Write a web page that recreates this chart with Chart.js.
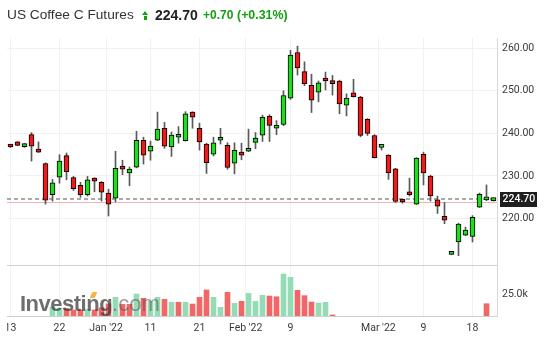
<!DOCTYPE html>
<html><head><meta charset="utf-8">
<script src="https://cdn.jsdelivr.net/npm/chart.js@4.4.1/dist/chart.umd.min.js"></script>
<style>
html,body{margin:0;padding:0;background:#fff;width:554px;height:359px;overflow:hidden;font-family:"Liberation Sans",Arial,sans-serif;}
#wrap{position:relative;width:554px;height:359px;}
#cv{position:absolute;left:7px;top:0;}
.t{position:absolute;top:4px;height:22px;line-height:22px;white-space:nowrap;}
#name{left:7px;font-size:13.7px;color:#333;}
#arrow{position:absolute;left:142px;top:11px;width:7px;height:9px;}
#arrow .tri{position:absolute;left:0;top:0;width:0;height:0;border-left:3.5px solid transparent;border-right:3.5px solid transparent;border-bottom:4.5px solid #13a013;}
#arrow .stem{position:absolute;left:2px;top:4.5px;width:3px;height:4px;background:#13a013;}
#price{left:155px;font-size:14px;font-weight:bold;color:#222;}
#chg{left:203px;font-size:12px;font-weight:bold;color:#13a013;}
#pct{left:237px;font-size:12.4px;font-weight:bold;color:#13a013;}
#logo{position:absolute;left:20px;top:293px;height:22px;line-height:22px;white-space:nowrap;font-family:"Liberation Sans",Arial,sans-serif;}
#logo .a{font-size:22px;font-weight:bold;color:rgba(60,60,60,0.74);letter-spacing:-0.5px;}
#logo .b{font-size:22px;color:rgba(95,95,95,0.62);}
#swoosh{position:absolute;left:91px;top:292px;width:5px;height:6px;background:rgba(245,166,35,0.85);transform:skewX(-25deg);border-radius:1px;}
</style>
</head><body>
<div id="wrap">
<canvas id="cv" width="547" height="359"></canvas>
<div class="t" id="name">US Coffee C Futures</div>
<div id="arrow"><div class="tri"></div><div class="stem"></div></div>
<div class="t" id="price">224.70</div>
<div class="t" id="chg">+0.70</div>
<div class="t" id="pct">(+0.31%)</div>
<div id="logo"><span class="a">Investing</span><span class="b">.com</span></div>
<div id="swoosh"></div>
</div>
<script>
// ---- data ----
const openP  = [237.3,238.0,236.9,239.7,236.0,232.9,225.6,229.7,234.8,229.6,227.8,225.6,229.3,228.5,226.0,224.8,232.1,230.7,232.1,238.4,235.8,238.4,241.2,236.8,239.1,238.3,245.0,241.2,237.5,235.1,238.4,237.2,233.0,235.4,235.8,237.9,239.6,244.0,241.2,242.1,248.3,259.0,254.5,251.3,249.7,253.0,252.3,252.3,246.6,249.5,248.5,243.3,239.5,236.7,234.9,231.7,224.2,226.3,223.4,235.1,230.0,224.4,220.5,211.6,214.5,216.1,215.8,222.7,224.4,224.2];
const highP  = [237.4,238.1,237.6,240.2,238.0,233.1,229.2,235.0,235.4,229.9,228.5,229.9,229.6,228.7,226.9,235.8,233.7,232.1,240.5,239.1,238.2,245.0,242.6,240.3,241.6,245.1,245.1,242.4,237.7,239.1,241.2,237.8,237.8,237.7,241.0,240.2,244.3,244.4,243.0,250.0,259.5,260.5,256.8,253.9,252.3,254.4,253.6,252.5,249.3,252.7,248.7,243.5,239.7,237.4,235.0,231.8,224.5,229.5,234.3,235.6,230.2,225.3,223.8,212.3,218.9,218.0,220.7,226.0,227.9,224.8];
const lowP   = [236.7,237.1,236.7,233.5,235.5,223.4,224.1,228.3,229.1,226.6,225.0,225.3,226.3,224.1,220.6,223.9,230.3,227.7,231.9,232.8,233.7,238.3,236.5,234.6,237.7,238.2,241.2,236.1,230.6,234.7,237.5,231.6,230.5,233.8,235.7,236.4,238.1,238.1,239.7,241.8,248.0,253.7,251.2,244.9,247.4,250.2,249.0,244.6,244.1,248.5,239.2,239.5,234.2,236.1,229.2,223.8,223.6,225.3,223.3,227.9,224.1,221.2,218.8,211.5,211.3,216.0,214.5,222.6,224.2,224.1];
const closeP = [236.8,237.2,237.5,237.0,235.6,224.3,228.4,233.5,231.0,227.0,225.6,229.1,228.8,226.2,223.4,231.8,231.6,231.6,238.4,234.9,237.0,241.0,237.0,239.6,239.6,244.6,243.8,238.0,233.1,237.8,238.9,232.0,236.0,234.9,236.5,238.9,243.8,241.9,241.5,248.9,258.4,255.4,251.7,247.8,251.9,252.3,251.7,246.9,248.3,248.6,239.5,240.0,234.3,237.2,230.7,224.0,223.9,225.6,234.2,230.7,225.3,222.9,219.6,212.2,218.7,217.3,220.3,225.7,224.9,224.7];
// volume in thousands (null = no bar)
const volume = [null,null,null,null,null,null,10.5,9.0,8.8,7.0,7.0,8.0,7.0,9.4,14.0,21.5,13.4,13.4,25.3,20.4,16.9,21.5,19.2,15.8,15.8,15.8,13.8,21.5,30.0,21.5,10.0,27.3,14.6,16.9,26.1,16.9,23.8,23.0,22.2,48.4,44.6,29.6,23.4,16.1,15.0,15.8,1.2,null,null,null,null,null,null,null,null,null,null,null,null,null,null,null,null,null,null,null,null,null,14.2,null];
// volume bar direction per day: u = up, d = down, - = none
const volDir = ["------uudd","duddduddud","uudududddu","ududuuuddu","uddduud---","----------","--------d-"].join('');
const tickPos = [0,7,13.65,20,27,33.6,40,52.55,59,66];
const tickLabels = ["13","22","Jan '22","11","21","Feb '22","9","Mar '22","9","18"];
const priceTicks = [220,230,240,250,260];
const volTicks = [25];
const lastPrice = 224.70;
const prevClose = 224.00;

const GREEN = '#1fdc1f', RED = '#ee1b1b';
const VGREEN = '#95dbb6', VRED = '#f06767';
const FONT = {family:'Roboto', size:10.5};
const TXT = '#3a3a3a';

const idx = openP.map((_, i) => i);
const wickData = idx.map(i => ({x:i, y:[lowP[i], highP[i]]}));
const bodyData = idx.map(i => ({x:i, y:[openP[i], closeP[i]]}));
const bodyColors = idx.map(i => closeP[i] >= openP[i] ? GREEN : RED);
const volIdx = idx.filter(i => volume[i] !== null);
const volData = volIdx.map(i => ({x:i, y:volume[i]}));
const volColors = volIdx.map(i => volDir[i] === 'u' ? VGREEN : VRED);

const overlay = {
  id: 'overlay',
  beforeDatasetsDraw(chart) {
    const {ctx, chartArea: a, scales: {y, yv}} = chart;
    ctx.save();
    ctx.lineWidth = 1;
    ctx.strokeStyle = '#d0d0d0';
    const ys = Math.round(yv.top) + 0.5;
    ctx.beginPath(); ctx.moveTo(a.left, ys); ctx.lineTo(a.right, ys); ctx.stroke();
    const yp = Math.round(y.getPixelForValue(prevClose)) + 0.5;
    ctx.strokeStyle = '#f2b4b4';
    ctx.beginPath(); ctx.moveTo(a.left, yp); ctx.lineTo(a.right, yp); ctx.stroke();
    const yc = Math.round(y.getPixelForValue(lastPrice));
    ctx.strokeStyle = '#a9a9a9'; ctx.lineWidth = 2; ctx.setLineDash([4, 3]);
    ctx.beginPath(); ctx.moveTo(a.left, yc); ctx.lineTo(a.right, yc); ctx.stroke();
    ctx.restore();
  },
  afterDraw(chart) {
    const {ctx, chartArea: a, scales: {y}} = chart;
    const yc = y.getPixelForValue(lastPrice);
    ctx.save();
    ctx.fillStyle = '#1e1e1e';
    ctx.fillRect(a.right + 3, Math.round(yc) - 7, 37, 15);
    ctx.fillStyle = '#ffffff';
    ctx.font = '500 10.5px Roboto';
    ctx.textBaseline = 'middle';
    ctx.textAlign = 'left';
    ctx.fillText(lastPrice.toFixed(2), a.right + 5.5, yc + 0.5);
    ctx.restore();
  }
};

new Chart(document.getElementById('cv'), {
  type: 'bar',
  data: {
    datasets: [
      {data: bodyData, backgroundColor: bodyColors, borderColor: '#000', borderWidth: 1, borderSkipped: false,
       barThickness: 5, grouped: false, minBarLength: 3, yAxisID: 'y', order: 0},
      {data: wickData, backgroundColor: '#5a5a5a', borderWidth: 0, barThickness: 1, grouped: false, yAxisID: 'y', order: 1},
      {data: volData, backgroundColor: volColors, borderWidth: 0, barThickness: 5, grouped: false, yAxisID: 'yv', order: 2}
    ]
  },
  options: {
    responsive: false,
    animation: false,
    events: [],
    layout: {padding: {top: 38, left: 0, right: 0, bottom: 0}},
    plugins: {legend: {display: false}, tooltip: {enabled: false}},
    scales: {
      x: {
        type: 'linear', min: -0.5, max: 69.5, offset: false,
        afterBuildTicks: s => { s.ticks = tickPos.map(v => ({value: v})); },
        afterFit: s => { s.height = 43; s.paddingLeft = 0; s.paddingRight = 0; },
        grid: {color: '#f1f1f1', drawTicks: false, offset: false},
        border: {color: '#cfcfcf'},
        ticks: {autoSkip: false, maxRotation: 0, minRotation: 0, padding: 6, color: TXT, font: FONT,
                callback: (v, i) => tickLabels[i]}
      },
      y: {
        type: 'linear', position: 'right', stack: 'panes', stackWeight: 227, min: 209.1, max: 262.4,
        afterBuildTicks: s => { s.ticks = priceTicks.map(v => ({value: v})); },
        afterFit: s => { s.width = 57; s.paddingTop = 0; s.paddingBottom = 0; },
        grid: {color: '#f1f1f1', drawTicks: false},
        border: {color: '#d8d8d8'},
        ticks: {padding: 5, color: TXT, font: FONT, callback: v => Number(v).toFixed(2)}
      },
      yv: {
        type: 'linear', position: 'right', stack: 'panes', stackWeight: 51, min: 0, max: 58.76,
        afterBuildTicks: s => { s.ticks = volTicks.map(v => ({value: v})); },
        afterFit: s => { s.width = 57; s.paddingTop = 0; s.paddingBottom = 0; },
        grid: {display: false, drawTicks: false},
        border: {color: '#d8d8d8'},
        ticks: {padding: 5, color: TXT, font: FONT, callback: v => Number(v).toFixed(1) + 'k'}
      }
    }
  },
  plugins: [overlay]
});
</script>
</body></html>
